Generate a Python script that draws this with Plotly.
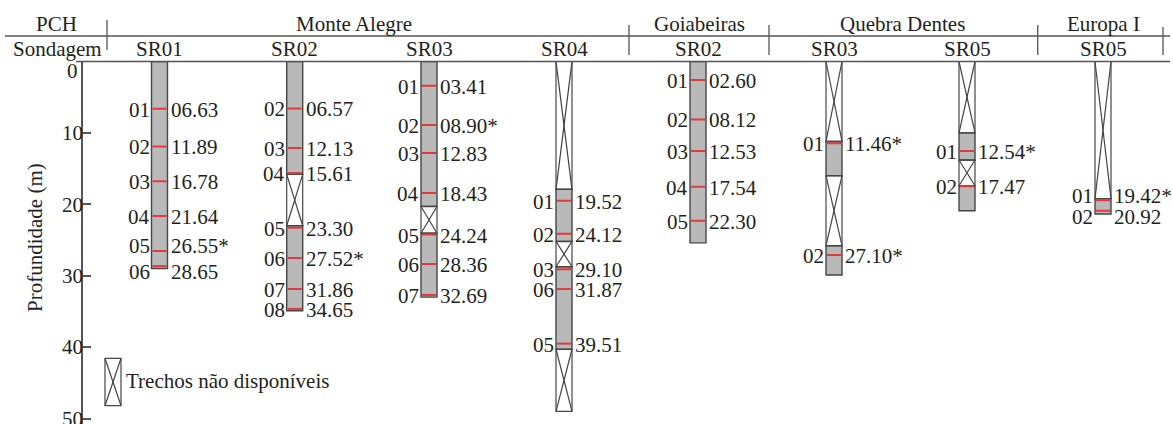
import plotly.graph_objects as go

# ---------------- data ----------------
pch_names = ["Monte Alegre", "Goiabeiras", "Quebra Dentes", "Europa I"]
hole_names = ["SR01", "SR02", "SR03", "SR04", "SR02", "SR03", "SR05", "SR05"]
hole_group = [0, 0, 0, 0, 1, 2, 2, 3]
hole_bottom = [29.0, 34.9, 33.0, 49.0, 25.4, 29.9, 20.9, 21.35]

ma_sr01_ids = ["01", "02", "03", "04", "05", "06"]
ma_sr01_depth = [6.63, 11.89, 16.78, 21.64, 26.55, 28.65]
ma_sr01_star = [0, 0, 0, 0, 1, 0]
ma_sr01_gaps = []

ma_sr02_ids = ["02", "03", "04", "05", "06", "07", "08"]
ma_sr02_depth = [6.57, 12.13, 15.61, 23.30, 27.52, 31.86, 34.65]
ma_sr02_star = [0, 0, 0, 0, 1, 0, 0]
ma_sr02_gaps = [(15.8, 23.0)]

ma_sr03_ids = ["01", "02", "03", "04", "05", "06", "07"]
ma_sr03_depth = [3.41, 8.90, 12.83, 18.43, 24.24, 28.36, 32.69]
ma_sr03_star = [0, 1, 0, 0, 0, 0, 0]
ma_sr03_gaps = [(20.3, 24.05)]

ma_sr04_ids = ["01", "02", "03", "06", "05"]
ma_sr04_depth = [19.52, 24.12, 29.10, 31.87, 39.51]
ma_sr04_star = [0, 0, 0, 0, 0]
ma_sr04_gaps = [(0.0, 17.9), (25.2, 28.75), (40.3, 49.0)]

go_sr02_ids = ["01", "02", "03", "04", "05"]
go_sr02_depth = [2.60, 8.12, 12.53, 17.54, 22.30]
go_sr02_star = [0, 0, 0, 0, 0]
go_sr02_gaps = []

qd_sr03_ids = ["01", "02"]
qd_sr03_depth = [11.46, 27.10]
qd_sr03_star = [1, 1]
qd_sr03_gaps = [(0.0, 11.2), (16.0, 25.8)]

qd_sr05_ids = ["01", "02"]
qd_sr05_depth = [12.54, 17.47]
qd_sr05_star = [1, 0]
qd_sr05_gaps = [(0.0, 10.0), (13.8, 17.4)]

eu_sr05_ids = ["01", "02"]
eu_sr05_depth = [19.42, 20.92]
eu_sr05_star = [1, 0]
eu_sr05_gaps = [(0.0, 19.2)]

depth_ticks = [0, 10, 20, 30, 40, 50]
legend_text = "Trechos não disponíveis"
y_title = "Profundidade (m)"

samples = [
    (ma_sr01_ids, ma_sr01_depth, ma_sr01_star, ma_sr01_gaps),
    (ma_sr02_ids, ma_sr02_depth, ma_sr02_star, ma_sr02_gaps),
    (ma_sr03_ids, ma_sr03_depth, ma_sr03_star, ma_sr03_gaps),
    (ma_sr04_ids, ma_sr04_depth, ma_sr04_star, ma_sr04_gaps),
    (go_sr02_ids, go_sr02_depth, go_sr02_star, go_sr02_gaps),
    (qd_sr03_ids, qd_sr03_depth, qd_sr03_star, qd_sr03_gaps),
    (qd_sr05_ids, qd_sr05_depth, qd_sr05_star, qd_sr05_gaps),
    (eu_sr05_ids, eu_sr05_depth, eu_sr05_star, eu_sr05_gaps),
]

# ---------------- layout / positions ----------------
W, H = 1173, 424
TOP_PX = 61.5            # pixel row of depth 0
PX_PER_M = 7.14
col_x = [159.5, 294.7, 429, 564, 698, 834, 967, 1103]
group_x = [354, 699, 902, 1103]
col_w = 16
label_shift = {(0, 4): -6, (0, 5): 5, (7, 0): -5, (7, 1): 5}   # px, down positive

FONT = "Liberation Serif"
TXT = "#231f20"
LINE = "#454545"
GRAY = "#b9b9b9"
RED = "#e23b3b"
FS = 21


def py(p):
    return 1 - p / H


fig = go.Figure()

bx, bbase, blen = [], [], []
xx, xy = [], []
rx, ry = [], []


def xbox(cx, t, b):
    l, r = cx - col_w / 2, cx + col_w / 2
    xx.extend([l, r, r, l, l, None, l, r, None, r, l, None])
    xy.extend([t, t, b, b, t, None, t, b, None, t, b, None])


for i, (ids, depth, star, gaps) in enumerate(samples):
    cx = col_x[i]
    bottom = hole_bottom[i]
    cur = 0.0
    for (t, b) in gaps:
        if t > cur:
            bx.append(cx); bbase.append(cur); blen.append(t - cur)
        xbox(cx, t, b)
        cur = b
    if cur < bottom:
        bx.append(cx); bbase.append(cur); blen.append(bottom - cur)
    for d in depth:
        rx.extend([cx - col_w / 2 + 1, cx + col_w / 2 - 1, None])
        ry.extend([d, d, None])

leg_top = (358.3 - TOP_PX) / PX_PER_M
leg_bot = (405.7 - TOP_PX) / PX_PER_M
xbox(113, leg_top, leg_bot)

fig.add_trace(go.Bar(x=bx, base=bbase, y=blen, width=col_w,
                     marker=dict(color=GRAY, line=dict(color=LINE, width=1.4)),
                     hoverinfo="skip", showlegend=False))
fig.add_trace(go.Scatter(x=xx, y=xy, mode="lines",
                         line=dict(color=LINE, width=1.2),
                         hoverinfo="skip", showlegend=False))
fig.add_trace(go.Scatter(x=rx, y=ry, mode="lines",
                         line=dict(color=RED, width=2),
                         hoverinfo="skip", showlegend=False))

ann = []
font = dict(family=FONT, size=FS, color=TXT)
for i, (ids, depth, star, gaps) in enumerate(samples):
    cx = col_x[i]
    for j, (sid, d, s) in enumerate(zip(ids, depth, star)):
        sh = -label_shift.get((i, j), 0) - 1
        ann.append(dict(x=cx - col_w / 2 - 1, y=d, xref="x", yref="y", text=sid,
                        xanchor="right", yanchor="middle", showarrow=False,
                        font=font, yshift=sh, borderpad=0))
        ann.append(dict(x=cx + col_w / 2 + 2, y=d, xref="x", yref="y",
                        text=f"{d:05.2f}" + ("*" if s else ""),
                        xanchor="left", yanchor="middle", showarrow=False,
                        font=font, yshift=sh, borderpad=0))
    ann.append(dict(x=cx, y=py(49), xref="x", yref="paper", text=hole_names[i],
                    xanchor="center", yanchor="middle", showarrow=False, font=font))

for g, name in enumerate(pch_names):
    ann.append(dict(x=group_x[g], y=py(23.5), xref="x", yref="paper", text=name,
                    xanchor="center", yanchor="middle", showarrow=False, font=font))

ann.append(dict(x=56, y=py(23.5), xref="x", yref="paper", text="PCH",
                xanchor="center", yanchor="middle", showarrow=False, font=font))
ann.append(dict(x=57, y=py(49), xref="x", yref="paper", text="Sondagem",
                xanchor="center", yanchor="middle", showarrow=False, font=font))
ann.append(dict(x=80, y=0, xref="x", yref="y", text=str(depth_ticks[0]),
                xanchor="right", yanchor="middle", showarrow=False, font=font,
                yshift=-10))
ann.append(dict(x=35, y=py(238), xref="x", yref="paper", text=y_title,
                textangle=-90, xanchor="center", yanchor="middle",
                showarrow=False, font=font))
ann.append(dict(x=124, y=(381 - TOP_PX) / PX_PER_M, xref="x", yref="y",
                text=legend_text, xanchor="left", yanchor="middle",
                showarrow=False, font=font))

shapes = []
def hline(x0, x1, p):
    shapes.append(dict(type="line", xref="x", yref="paper", x0=x0, x1=x1,
                       y0=py(p), y1=py(p), line=dict(color="#555", width=1.3)))
def vline(x, p0, p1):
    shapes.append(dict(type="line", xref="x", yref="paper", x0=x, x1=x,
                       y0=py(p0), y1=py(p1), line=dict(color="#555", width=1.3)))

hline(5, 1170, 36)
hline(76, 1170, TOP_PX)
vline(107, 20, 50)
vline(629, 25, 55)
vline(769, 25, 55)
vline(1037.7, 25, 55)
vline(1163, 27, 55)

fig.update_layout(
    width=W, height=H,
    margin=dict(l=0, r=0, t=0, b=0, autoexpand=False),
    paper_bgcolor="white", plot_bgcolor="white",
    barmode="overlay",
    showlegend=False,
    annotations=ann,
    shapes=shapes,
    xaxis=dict(range=[0, W], visible=False, fixedrange=True, automargin=False),
    yaxis=dict(range=[(H - TOP_PX) / PX_PER_M, 0],
               domain=[0, py(TOP_PX)],
               anchor="free", position=82 / W, automargin=False,
               showline=True, linecolor="#555", linewidth=1.5,
               ticks="inside", ticklen=8, tickcolor="#555", tickwidth=1.5,
               tickvals=depth_ticks,
               ticktext=[""] + [str(t) for t in depth_ticks[1:]],
               ticklabelstandoff=-6, ticklabeloverflow="allow",
               tickfont=font, showgrid=False, zeroline=False,
               fixedrange=True),
)

fig.write_html("out.html", config={"displayModeBar": False},
               post_script="document.body.style.margin='0px';document.body.style.overflow='hidden';")
